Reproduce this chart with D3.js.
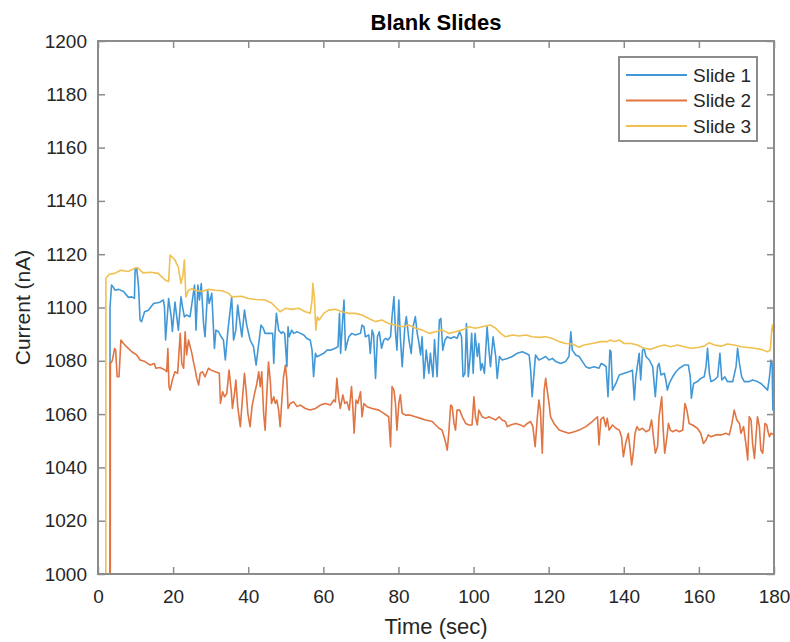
<!DOCTYPE html>
<html>
<head>
<meta charset="utf-8">
<script src="https://cdn.jsdelivr.net/npm/d3@7"></script>
<style>
  html, body { margin: 0; padding: 0; background: #fff; }
  svg { display: block; font-family: "Liberation Sans", Arial, sans-serif; }
</style>
</head>
<body>
<svg id="chart" width="790" height="642"></svg>
<script>
// Measured current of three blank slides over a 3-minute run
const slide1Time = [0, 3.0, 3.2, 3.6, 4.0, 4.5, 5.5, 6.8, 8.1, 9.0, 9.7, 9.9, 10.3, 10.8, 11.2, 11.6, 12.4, 13.4, 14.8, 16.5, 17.4, 17.7, 18.0, 18.8, 19.5, 19.8, 20.5, 21.4, 22.1, 22.5, 23, 23.6, 24.5, 25.2, 25.7, 26.1, 26.6, 27, 27.5, 28.1, 28.5, 29.2, 29.6, 30.3, 31, 31.4, 32.1, 32.8, 33.4, 33.9, 34.6, 35.2, 35.6, 36.1, 36.7, 37.2, 37.6, 38.3, 39, 39.6, 40.5, 41.4, 42.1, 42.8, 43.4, 44.0, 44.5, 45.9, 46.5, 46.8, 47.1, 47.5, 48.1, 48.8, 49.2, 49.7, 50.3, 50.6, 50.9, 51.6, 52.1, 53, 53.9, 54.8, 55.6, 56.5, 57, 57.4, 57.9, 58.3, 59.2, 60.1, 61, 61.9, 63.2, 63.9, 64.3, 64.6, 65.2, 65.5, 65.9, 66.3, 66.8, 67.6, 68.5, 69.9, 70.3, 70.8, 71.2, 72.1, 72.5, 73, 73.4, 73.9, 74.4, 74.9, 75.5, 76.1, 76.6, 77.2, 77.9, 78.3, 78.8, 79.2, 79.6, 80.1, 80.5, 81, 81.7, 82.1, 82.8, 83.4, 83.9, 84.5, 85, 85.4, 85.9, 86.3, 86.8, 87.4, 88.1, 88.5, 89.2, 89.6, 90.3, 90.9, 91.3, 91.8, 92.4, 93, 93.9, 94.8, 95.6, 96.3, 96.8, 97.2, 97.7, 98.1, 98.6, 99.1, 99.5, 99.9, 100.4, 101, 101.4, 101.9, 102.3, 102.9, 103.6, 104.1, 104.5, 105.2, 105.9, 106.3, 106.9, 107.6, 109, 110.3, 111.6, 113, 113.9, 114.8, 115.2, 115.6, 116.1, 116.5, 117.4, 118.3, 119.2, 120.1, 121, 121.9, 123.2, 124.5, 125.4, 125.9, 126.3, 127.2, 128.1, 129, 129.9, 130.8, 132.1, 133.4, 134.0, 134.8, 135.3, 135.8, 136.3, 136.6, 137, 137.9, 138.8, 140.1, 141.4, 142.3, 142.8, 143.2, 143.6, 144.1, 144.5, 145, 145.4, 145.9, 146.8, 147.7, 148.4, 149, 149.4, 149.9, 150.8, 151.2, 151.6, 152.1, 153, 153.9, 154.8, 156.1, 157.2, 157.7, 158, 158.6, 159.6, 160.5, 161.4, 161.9, 162.3, 162.8, 163.2, 164.1, 165, 165.6, 166.1, 166.9, 167.6, 169, 169.9, 170.3, 170.8, 171.4, 172.1, 173.4, 174.3, 175.6, 176.5, 177.4, 178.3, 178.8, 179.2, 179.5, 179.7, 180];
const slide1Current = [0, 0, 1100, 1108.4, 1107.8, 1106.5, 1106.8, 1106, 1103.8, 1104, 1103.4, 1114.7, 1114.7, 1107.8, 1095.3, 1094.7, 1098.4, 1099, 1101.5, 1102, 1102.8, 1100.3, 1087.8, 1103.4, 1096.5, 1091, 1102, 1091.5, 1104, 1100.3, 1096.5, 1097.2, 1096.5, 1103.4, 1108.4, 1091.5, 1108.4, 1102.8, 1109, 1094, 1089, 1106.5, 1101.5, 1105.3, 1084.6, 1091.5, 1090.9, 1089, 1087.8, 1080.3, 1091.5, 1099, 1104, 1087.8, 1091.5, 1100.9, 1096.5, 1089, 1099, 1093.4, 1087.8, 1085.3, 1078.4, 1086.5, 1093.4, 1092.2, 1090.3, 1090.3, 1090.3, 1079, 1089, 1097.8, 1091.5, 1090.3, 1090.9, 1090.3, 1077.8, 1092.8, 1089, 1091.5, 1090.3, 1090.9, 1090.3, 1089.7, 1088.4, 1087.8, 1084, 1074, 1082.8, 1081.5, 1082.2, 1082.8, 1084, 1084, 1084.7, 1085.3, 1097.8, 1082.8, 1096.6, 1102.8, 1084, 1086.5, 1089, 1090.3, 1089.7, 1090.3, 1093.4, 1092.8, 1089, 1089.7, 1082.8, 1091.5, 1089.7, 1073.4, 1089, 1090.9, 1084.7, 1087.8, 1088.4, 1087.8, 1089, 1096.6, 1104.1, 1090.9, 1084, 1102.8, 1089, 1077.8, 1092.8, 1096.6, 1087.8, 1082.8, 1092.8, 1096.6, 1090.3, 1087.2, 1082.2, 1089, 1073.4, 1084, 1075.3, 1082.8, 1074, 1088, 1074, 1095.3, 1095.9, 1084, 1087.8, 1089, 1088.4, 1089, 1088.4, 1090.9, 1089, 1074, 1075.3, 1094, 1074, 1081.6, 1090.3, 1075.3, 1090.3, 1081.6, 1086.5, 1076.5, 1079, 1075.3, 1092.8, 1084, 1077.8, 1089, 1081.6, 1073.4, 1081.6, 1080.3, 1080.9, 1081.6, 1082.8, 1083.4, 1082.8, 1082.2, 1076.5, 1066.5, 1075.3, 1082.2, 1080.3, 1080.9, 1081.6, 1080.3, 1080.9, 1079.7, 1079, 1079.7, 1081.6, 1090.9, 1084, 1082.2, 1081.6, 1079.7, 1077.8, 1077.2, 1077.8, 1077.2, 1079, 1078.4, 1077.8, 1066.5, 1084, 1083.4, 1069, 1071.5, 1074.7, 1075.3, 1075.9, 1076.5, 1065.3, 1074, 1077.8, 1082.8, 1072.8, 1084, 1084.7, 1081.6, 1080.3, 1077.8, 1066.5, 1077.8, 1079, 1074.7, 1075.3, 1072.8, 1069, 1071.5, 1074, 1075.9, 1077.2, 1078.4, 1078.4, 1074, 1066, 1071.5, 1072.2, 1073.4, 1074, 1077.8, 1084.7, 1075.3, 1072.2, 1072.8, 1074, 1082.8, 1072.8, 1074, 1072.2, 1072.2, 1077.8, 1084.7, 1079, 1074, 1072.2, 1072.2, 1072.8, 1072.2, 1071.5, 1070.3, 1069, 1074, 1080.3, 1079, 1061.5, 1072.8];

const slide2Time = [0, 3.0, 3.3, 3.8, 4.4, 4.7, 5.1, 5.6, 6.1, 6.8, 7.6, 9, 10.3, 11.2, 12.5, 13.9, 15, 15.4, 16.5, 17.9, 18.3, 18.6, 18.9, 19.2, 19.8, 20.5, 21.2, 21.9, 22.3, 22.8, 23.2, 23.6, 24.1, 25, 25.4, 25.9, 26.3, 26.8, 27.2, 27.8, 28.5, 29.4, 30.1, 31.2, 32.3, 32.6, 33.2, 33.7, 34.3, 34.9, 35.5, 35.8, 36.4, 36.7, 37.2, 37.9, 38.3, 39, 39.5, 39.9, 40.5, 41, 41.7, 42.3, 42.8, 43.2, 43.6, 44.1, 44.5, 45, 45.4, 45.9, 46.2, 46.8, 47.2, 47.6, 48.1, 48.5, 48.9, 49.4, 49.9, 50.3, 50.6, 51.2, 52.1, 53, 53.9, 55.2, 56.5, 57.9, 59.2, 60.5, 61.9, 62.8, 63.2, 63.6, 64.1, 64.5, 65.2, 65.7, 66.3, 66.9, 67.5, 67.8, 68.2, 68.7, 69.2, 69.9, 70.3, 70.8, 71.6, 73, 74.8, 76.1, 77.4, 77.9, 78.3, 78.8, 79.2, 79.6, 80.1, 80.5, 81, 81.9, 83.2, 84.5, 85.9, 87.2, 89, 89.9, 90.8, 91.6, 92.4, 93, 93.4, 93.9, 94.3, 94.8, 95.2, 95.6, 96.3, 97, 97.9, 98.8, 99.6, 100.1, 100.5, 101, 101.4, 102.3, 103.2, 104.1, 105, 105.9, 106.8, 107.6, 108.5, 109, 109.9, 111.2, 112.5, 113.4, 114.3, 115.2, 115.8, 116.4, 117, 117.4, 117.8, 118.3, 118.8, 119.2, 119.6, 120.1, 120.5, 121.4, 122.8, 124.1, 125.4, 126.8, 128.1, 129.9, 131.6, 133, 133.4, 133.9, 134.6, 135.2, 135.6, 136.1, 137, 137.9, 138.8, 139.4, 139.9, 140.5, 141.2, 141.7, 142.1, 142.6, 143, 143.5, 144.1, 145, 145.9, 146.8, 147.4, 147.9, 148.4, 149, 149.4, 150.1, 150.5, 150.9, 151.5, 151.9, 152.4, 153, 153.9, 154.8, 155.7, 156.3, 156.8, 157.4, 158.3, 159.6, 160.5, 161.2, 161.9, 162.5, 163.2, 164.5, 165.9, 167.2, 168.1, 168.8, 169.4, 170.1, 170.8, 171.2, 171.9, 172.5, 173, 173.4, 173.9, 174.3, 174.8, 175.2, 175.6, 176.1, 176.5, 177, 177.6, 178.1, 178.3, 178.8, 179.2, 180];
const slide2Current = [0, 0, 1079, 1080, 1084.6, 1084, 1074, 1074, 1087.8, 1086.5, 1085.3, 1083.4, 1082.2, 1080.3, 1079.7, 1078.4, 1079, 1077.2, 1077.5, 1076.5, 1075.9, 1084.6, 1070.3, 1069, 1072.8, 1075.9, 1075.3, 1090.3, 1079, 1077.2, 1090.9, 1082.2, 1087.8, 1082.8, 1079.7, 1076.5, 1073.4, 1070.9, 1075.3, 1075.9, 1074, 1077.2, 1076.5, 1075.9, 1075.3, 1064, 1068.4, 1066.5, 1067.8, 1076.5, 1068.4, 1062.1, 1068.4, 1072.8, 1062.8, 1055.3, 1062.8, 1075.3, 1067.8, 1060.3, 1055.3, 1062.8, 1067.8, 1071.5, 1075.9, 1070.3, 1075.9, 1060.3, 1054, 1069, 1079.5, 1072, 1064, 1066.5, 1064, 1065.3, 1061.5, 1055.3, 1064, 1074, 1078.4, 1072.8, 1062.1, 1064, 1064.6, 1062.8, 1063.4, 1062.1, 1061.5, 1062.1, 1063.4, 1064, 1063.4, 1065.3, 1064.6, 1073.4, 1065.9, 1062.1, 1067.2, 1064, 1064.6, 1061.5, 1070.3, 1064, 1052.8, 1065.3, 1064, 1068.4, 1059, 1064, 1062.8, 1062.1, 1061.5, 1060.3, 1059, 1047.8, 1070.3, 1069, 1064, 1054, 1064, 1067.2, 1060.3, 1059.6, 1059.6, 1059, 1058.4, 1057.8, 1057.2, 1055.9, 1054.7, 1054, 1050.3, 1046.5, 1052.8, 1063.4, 1062.8, 1056.5, 1054, 1061.5, 1061.5, 1059, 1056.5, 1055.9, 1055.9, 1066.5, 1059, 1055.9, 1061.5, 1059, 1058.4, 1059, 1058.4, 1057.8, 1059, 1057.8, 1057.2, 1055.3, 1055.9, 1056.5, 1055.9, 1055.3, 1056.5, 1057.2, 1055.3, 1047.8, 1059, 1065.3, 1061.5, 1045.3, 1069, 1073.4, 1069, 1064, 1059, 1056.5, 1054, 1053.4, 1052.8, 1053.4, 1054, 1055.3, 1057.2, 1059, 1048.4, 1058, 1058.9, 1055.3, 1058.4, 1054, 1055.9, 1054.7, 1054, 1051.5, 1044, 1049, 1052.8, 1046.5, 1040.9, 1046.5, 1052.8, 1055.3, 1054, 1054.7, 1053.4, 1054, 1057.8, 1051.5, 1045.3, 1047.8, 1059, 1066.5, 1054, 1045.3, 1051.5, 1056.5, 1054, 1053.4, 1054, 1053.4, 1054, 1064, 1061.5, 1056.5, 1055.9, 1054.7, 1052.8, 1049, 1050.3, 1052.2, 1051.5, 1052.2, 1052.2, 1052.8, 1052.2, 1056.5, 1061.5, 1057.8, 1056.5, 1052.8, 1055.3, 1049, 1042.8, 1059, 1057.8, 1049, 1043.4, 1051.5, 1059, 1055.3, 1046.5, 1045.3, 1056.5, 1055.9, 1054, 1051.5, 1052.8, 1052.2];

const slide3Time = [0, 1.9, 2.1, 3, 4.5, 6, 8, 9.5, 10.5, 12, 14, 16, 17.9, 18.8, 19.2, 20.5, 21.4, 22.1, 22.6, 23.0, 23.4, 24.1, 25, 25.9, 27.6, 29.5, 31.2, 33, 34.8, 35.6, 38.3, 40, 42, 44.5, 46.3, 47.6, 48.5, 49.9, 51.6, 53.4, 55.2, 56.5, 57.0, 57.2, 57.6, 58.0, 58.4, 58.9, 60.1, 61.4, 63.2, 65, 66.8, 68.5, 70.3, 72.1, 73.9, 75.6, 77.4, 79.2, 81, 82.8, 84.5, 86.3, 88.1, 89.9, 91.6, 93.4, 95.2, 97, 98.8, 100.5, 102.3, 104.5, 105.9, 107.2, 108.5, 110.3, 112.1, 113.9, 115.6, 117.4, 119.2, 121, 122.8, 124.5, 126.3, 128.1, 129.4, 131.6, 133.9, 135.6, 136.5, 137.5, 138.8, 140.1, 141.9, 143.6, 145.4, 147.2, 149, 150.8, 152.5, 154.3, 156.1, 157.9, 159.7, 161.4, 162.8, 164.1, 165.9, 167.6, 169.4, 171.2, 173, 174.8, 176.5, 178.3, 179.0, 179.4, 179.6, 180];
const slide3Current = [0, 0, 1111, 1112.5, 1112.8, 1114, 1113.5, 1114.5, 1115, 1113, 1113.2, 1112.8, 1110.3, 1109.7, 1119.7, 1117.8, 1115, 1109, 1112, 1117.8, 1104, 1106.5, 1107, 1106.5, 1106, 1106.8, 1106.5, 1106.3, 1105.3, 1104, 1104.2, 1103.4, 1103, 1102.8, 1101.6, 1099.7, 1098.4, 1099.7, 1099.3, 1099.7, 1098.4, 1097.8, 1102.8, 1109.1, 1104, 1091.5, 1096.5, 1095.3, 1097.8, 1099, 1099.3, 1098.4, 1097.8, 1097.8, 1097.2, 1095.9, 1094.7, 1095.3, 1094, 1093.4, 1092.8, 1093.4, 1092.2, 1091.6, 1090.3, 1090.9, 1091.6, 1090.3, 1090.9, 1091.6, 1092.8, 1092.2, 1092.8, 1093.4, 1092.2, 1090.3, 1089, 1089.7, 1089.3, 1089.7, 1089, 1088.8, 1089, 1088.4, 1087.2, 1086.5, 1086.3, 1085.1, 1085.9, 1086.5, 1087.2, 1087.2, 1087.8, 1087.2, 1087.8, 1086.5, 1086.5, 1085.9, 1084.7, 1084.3, 1085.3, 1085.9, 1085.3, 1085.9, 1085.3, 1084.7, 1085, 1085.5, 1086.8, 1085.9, 1085.5, 1086.3, 1085.9, 1085.3, 1085, 1084.7, 1084.3, 1083.4, 1084, 1091.6, 1093.4, 1089.7];

const seriesNames = ["Slide 1", "Slide 2", "Slide 3"];
const seriesColors = ["#4298d6", "#e07442", "#f0c050"];
const xTicks = [0, 20, 40, 60, 80, 100, 120, 140, 160, 180];
const yTicks = [1000, 1020, 1040, 1060, 1080, 1100, 1120, 1140, 1160, 1180, 1200];

const series = [
  { name: seriesNames[0], color: seriesColors[0], t: slide1Time, v: slide1Current },
  { name: seriesNames[1], color: seriesColors[1], t: slide2Time, v: slide2Current },
  { name: seriesNames[2], color: seriesColors[2], t: slide3Time, v: slide3Current }
];

const margin = { left: 98, top: 41, right: 16, bottom: 68 };
const W = 790, H = 642;
const pw = W - margin.left - margin.right;
const ph = H - margin.top - margin.bottom;

const svg = d3.select("#chart");
const g = svg.append("g").attr("transform", `translate(${margin.left},${margin.top})`);

const x = d3.scaleLinear().domain([0, 180]).range([0, pw]);
const y = d3.scaleLinear().domain([1000, 1200]).range([ph, 0]);

const axisColor = "#8c8c8c";
const textColor = "#262626";

g.append("rect").attr("width", pw).attr("height", ph).attr("fill", "#fff");

svg.append("defs").append("clipPath").attr("id", "plotClip")
  .append("rect").attr("width", pw).attr("height", ph);

// data lines
const line = d3.line().x(d => x(d[0])).y(d => y(d[1]));
const lines = g.append("g").attr("clip-path", "url(#plotClip)");
series.forEach(s => {
  const pts = s.t.map((t, i) => [t, s.v[i]]);
  lines.append("path")
    .datum(pts)
    .attr("fill", "none")
    .attr("stroke", s.color)
    .attr("stroke-width", 1.6)
    .attr("stroke-linejoin", "round")
    .attr("d", line);
});

// axes: ticks point inward on all four sides
function styleAxis(sel) {
  sel.select(".domain").remove();
  sel.selectAll(".tick line").attr("stroke", axisColor).attr("stroke-width", 1.5);
  sel.selectAll(".tick text").attr("fill", textColor).style("font-size", "19px");
}
const tickLen = 7;
const fmt = d3.format("d");
g.append("g").attr("transform", `translate(0,${ph})`)
  .call(d3.axisBottom(x).tickValues(xTicks).tickFormat(fmt).tickSizeInner(-tickLen).tickSizeOuter(0).tickPadding(16))
  .call(styleAxis);
g.append("g")
  .call(d3.axisTop(x).tickValues(xTicks).tickSizeInner(-tickLen).tickSizeOuter(0).tickFormat(""))
  .call(styleAxis);
g.append("g")
  .call(d3.axisLeft(y).tickValues(yTicks).tickFormat(fmt).tickSizeInner(-tickLen).tickSizeOuter(0).tickPadding(11))
  .call(styleAxis);
g.append("g").attr("transform", `translate(${pw},0)`)
  .call(d3.axisRight(y).tickValues(yTicks).tickSizeInner(-tickLen).tickSizeOuter(0).tickFormat(""))
  .call(styleAxis);

g.append("rect").attr("width", pw).attr("height", ph)
  .attr("fill", "none").attr("stroke", axisColor).attr("stroke-width", 2);

// title and axis labels
svg.append("text").attr("x", margin.left + pw / 2).attr("y", 30)
  .attr("text-anchor", "middle").attr("font-weight", "bold")
  .style("font-size", "22px").attr("fill", "#000").text("Blank Slides");
svg.append("text").attr("x", margin.left + pw / 2).attr("y", 634)
  .attr("text-anchor", "middle").style("font-size", "22px").attr("fill", textColor)
  .text("Time (sec)");
svg.append("text").attr("transform", `translate(30,${margin.top + ph / 2}) rotate(-90)`)
  .attr("text-anchor", "middle").style("font-size", "21px").attr("fill", textColor)
  .text("Current (nA)");

// legend
const lg = svg.append("g").attr("transform", "translate(619,57)");
lg.append("rect").attr("width", 138).attr("height", 84)
  .attr("fill", "#fff").attr("stroke", axisColor).attr("stroke-width", 2);
series.forEach((s, i) => {
  const yy = 18 + i * 25.5;
  lg.append("line").attr("x1", 7).attr("x2", 68).attr("y1", yy).attr("y2", yy)
    .attr("stroke", s.color).attr("stroke-width", 1.8);
  lg.append("text").attr("x", 74).attr("y", yy).attr("dy", "0.35em")
    .style("font-size", "19px").attr("fill", textColor).text(s.name);
});
</script>
</body>
</html>
